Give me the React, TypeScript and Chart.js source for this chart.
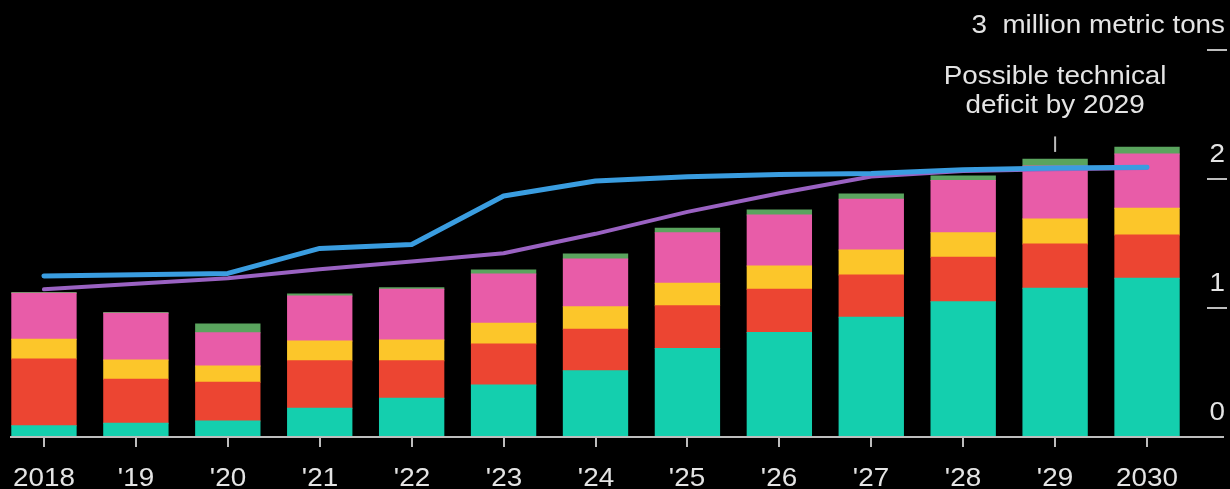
import React, { useEffect, useRef } from "react";
import { Chart, registerables } from "chart.js";

Chart.register(...registerables);

// ---- Data ----
const years = ["2018", "'19", "'20", "'21", "'22", "'23", "'24", "'25", "'26", "'27", "'28", "'29", "2030"];
const tealValues = [0.088, 0.106, 0.124, 0.222, 0.300, 0.403, 0.514, 0.687, 0.811, 0.928, 1.049, 1.153, 1.230];
const redValues = [0.517, 0.341, 0.300, 0.370, 0.292, 0.318, 0.321, 0.331, 0.334, 0.328, 0.344, 0.343, 0.336];
const yellowValues = [0.152, 0.150, 0.126, 0.152, 0.160, 0.160, 0.175, 0.173, 0.181, 0.194, 0.191, 0.194, 0.207];
const pinkValues = [0.357, 0.362, 0.259, 0.349, 0.393, 0.383, 0.370, 0.393, 0.395, 0.393, 0.405, 0.410, 0.421];
const greenValues = [0.006, 0.006, 0.067, 0.015, 0.012, 0.031, 0.039, 0.034, 0.039, 0.041, 0.035, 0.053, 0.052];
const blueLine = [1.248, 1.258, 1.268, 1.462, 1.492, 1.868, 1.984, 2.018, 2.034, 2.042, 2.072, 2.085, 2.092];
const purpleLine = [1.145, 1.188, 1.230, 1.300, 1.360, 1.425, 1.575, 1.745, 1.890, 2.020, 2.062, 2.076, 2.086];
const yTickValues = [0, 1, 2, 3];
const yTickLabels = ["0", "1", "2", "3  million metric tons"];
const annotationLines = ["Possible technical", "deficit by 2029"];
const annotationIndex = 11;

const TEXT = "#e4e4e4";
const AXIS = "#bdbdbd";
const FONT = "26px 'Liberation Sans', Arial, sans-serif";
const SX = 1.07;

function drawText(ctx: CanvasRenderingContext2D, text: string, x: number, y: number, align: CanvasTextAlign) {
  ctx.save();
  ctx.translate(x, y);
  ctx.scale(SX, 1);
  ctx.textAlign = align;
  ctx.textBaseline = "alphabetic";
  ctx.fillText(text, 0, 0);
  ctx.restore();
}

const decorPlugin = {
  id: "decor",
  afterDatasetsDraw(chart: any) {
    const ctx: CanvasRenderingContext2D = chart.ctx;
    const xs = chart.scales.x;
    const ys = chart.scales.y;
    const y0 = ys.getPixelForValue(0);
    ctx.save();
    ctx.strokeStyle = AXIS;
    ctx.lineWidth = 2;
    // baseline
    ctx.beginPath();
    ctx.moveTo(12, y0);
    ctx.lineTo(1226, y0);
    ctx.stroke();
    // x ticks + labels
    ctx.fillStyle = TEXT;
    ctx.font = FONT;
    years.forEach((lab, i) => {
      const x = Math.round(xs.getPixelForValue(i));
      ctx.beginPath();
      ctx.moveTo(x, y0);
      ctx.lineTo(x, y0 + 10);
      ctx.stroke();
      drawText(ctx, lab, x, y0 + 49, "center");
    });
    // y dashes + labels on the right
    yTickValues.forEach((v, i) => {
      const y = ys.getPixelForValue(v);
      if (v !== 0) {
        ctx.beginPath();
        ctx.moveTo(1209, y);
        ctx.lineTo(1229, y);
        ctx.stroke();
      }
      drawText(ctx, yTickLabels[i], 1227, y - 17, "right");
    });
    // annotation
    const ax = xs.getPixelForValue(annotationIndex);
    ctx.beginPath();
    ctx.moveTo(ax, ys.getPixelForValue(2.21));
    ctx.lineTo(ax, ys.getPixelForValue(2.33));
    ctx.stroke();
    drawText(ctx, annotationLines[0], ax, ys.getPixelForValue(2.74), "center");
    drawText(ctx, annotationLines[1], ax, ys.getPixelForValue(2.51), "center");
    ctx.restore();
  },
};

export default function App() {
  const ref = useRef<HTMLCanvasElement | null>(null);
  useEffect(() => {
    document.body.style.background = "#000";
    const canvas = ref.current!;
    const barCommon = {
      type: "bar" as const, stack: "bars", borderWidth: 0, inflateAmount: 0.5,
      barPercentage: 0.7, categoryPercentage: 1.0, order: 2,
    };
    const chart = new Chart(canvas, {
      type: "bar",
      data: {
        labels: years,
        datasets: [
          { ...barCommon, label: "teal", data: tealValues, backgroundColor: "#14cfae" },
          { ...barCommon, label: "red", data: redValues, backgroundColor: "#ec4532" },
          { ...barCommon, label: "yellow", data: yellowValues, backgroundColor: "#fcc62a" },
          { ...barCommon, label: "pink", data: pinkValues, backgroundColor: "#e85ca8" },
          { ...barCommon, label: "green", data: greenValues, backgroundColor: "#5aa45e" },
          {
            type: "line", label: "purple", data: purpleLine, stack: "purple", order: 1,
            borderColor: "#9a62c2", borderWidth: 4, pointRadius: 0, tension: 0,
            borderCapStyle: "round", borderJoinStyle: "round", fill: false,
          },
          {
            type: "line", label: "blue", data: blueLine, stack: "blue", order: 0,
            borderColor: "#3a9de0", borderWidth: 5, pointRadius: 0, tension: 0,
            borderCapStyle: "round", borderJoinStyle: "round", fill: false,
          },
        ] as any,
      },
      options: {
        animation: false,
        responsive: false,
        devicePixelRatio: 1,
        layout: { padding: { left: 0, right: 37, top: 50, bottom: 52 } },
        plugins: { legend: { display: false }, tooltip: { enabled: false } },
        scales: {
          x: { display: false, stacked: true, offset: true },
          y: { display: false, stacked: true, min: 0, max: 3 },
        },
      },
      plugins: [decorPlugin],
    });
    return () => chart.destroy();
  }, []);
  return (
    <div style={{ position: "absolute", left: -2, top: 0, width: 1232, height: 489, background: "#000" }}>
      <canvas ref={ref} width={1232} height={489} style={{ display: "block", width: 1232, height: 489 }} />
    </div>
  );
}
